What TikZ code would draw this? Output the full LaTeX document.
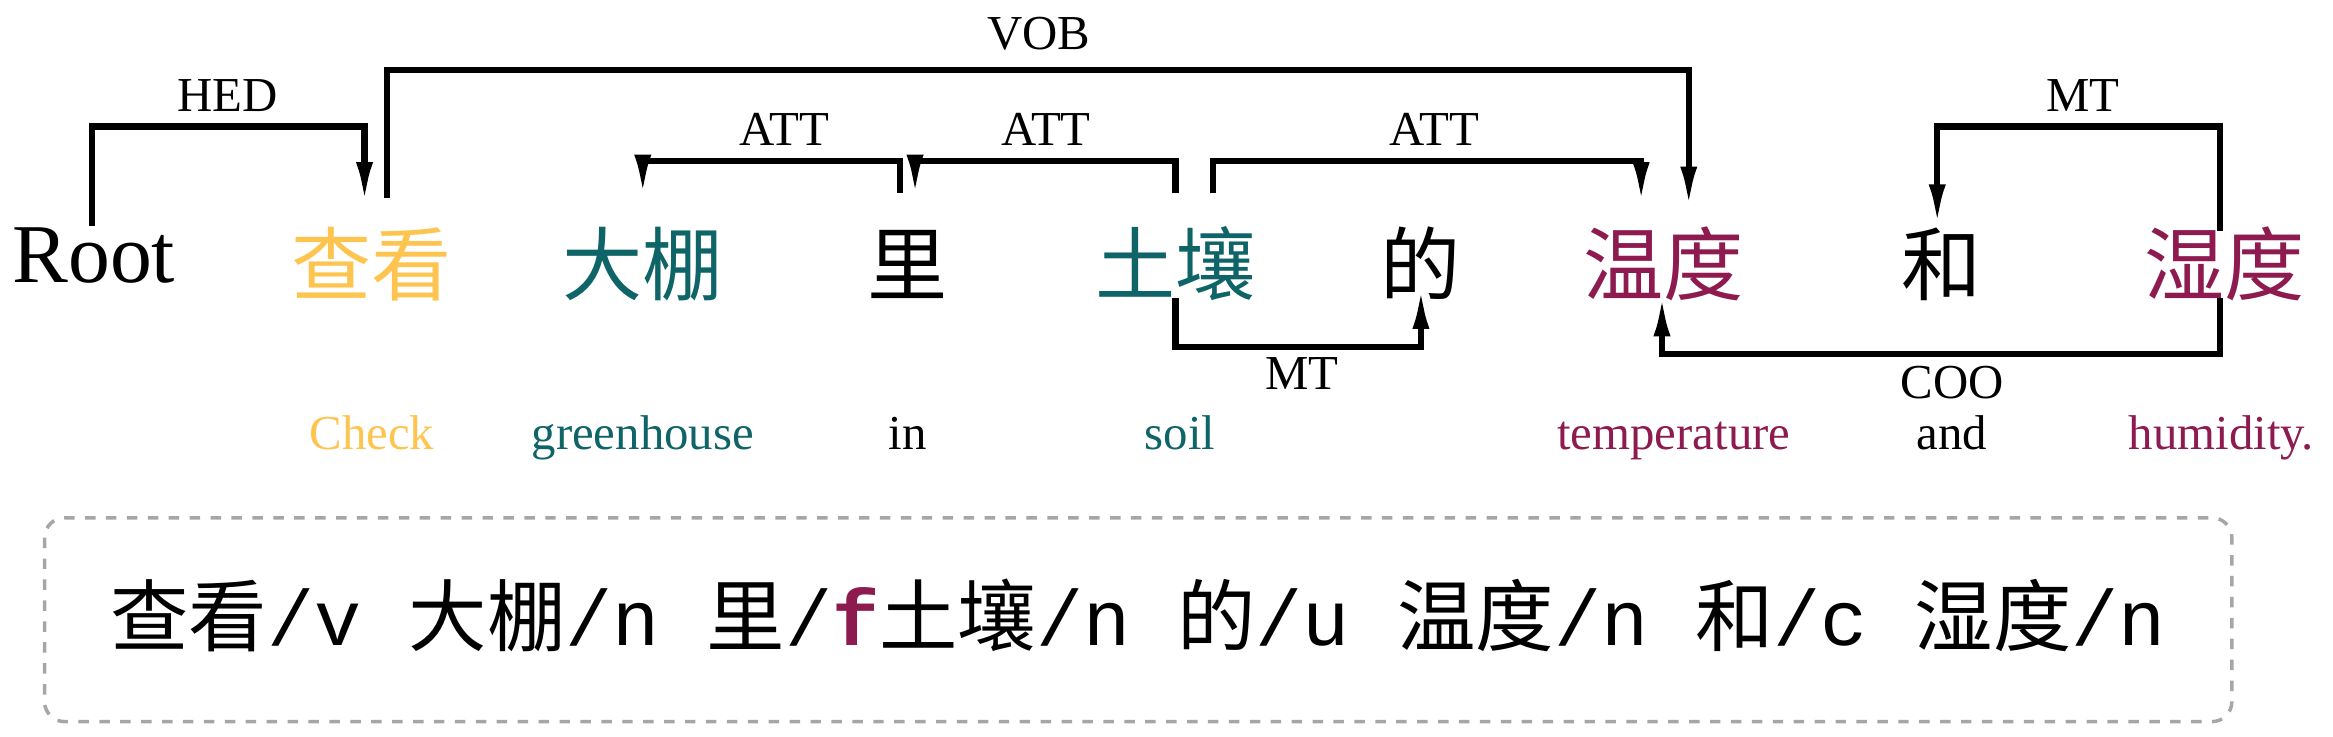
\documentclass[tikz,border=0pt]{standalone}
\usepackage{fontspec}
\setmainfont{Liberation Serif}
\newfontfamily\cjk{Noto Sans CJK SC}
\newfontfamily\mono{Liberation Mono}
\usetikzlibrary{arrows.meta}
\definecolor{cy}{HTML}{FDC550}
\definecolor{ct}{HTML}{0E6467}
\definecolor{cm}{HTML}{8E1B4F}
\begin{document}
\begin{tikzpicture}[x=0.015cm,y=-0.015cm,
  arr/.style={line width=1.8pt,-{Latex[length=0.42cm,width=0.17cm]}},
  cn/.style={font=\cjk\fontsize{23}{23}\selectfont,inner sep=0pt,anchor=base},
  en/.style={font=\fontsize{14}{14}\selectfont,inner sep=0pt,anchor=base},
  lab/.style={font=\fontsize{14}{14}\selectfont,inner sep=0pt,anchor=base}]
\useasboundingbox (0,0) rectangle (1568,495);
% words
\node[font=\fontsize{24}{24}\selectfont,inner sep=0pt,anchor=base] (root) at (63,190) {Root};
\node[cn,text=cy] (w1) at (250,198) {查看};
\node[cn,text=ct] (w2) at (432,198) {大棚};
\node[cn] (w3) at (610,198) {里};
\node[cn,text=ct] (w4) at (790,198) {土壤};
\node[cn] (w5) at (955,198) {的};
\node[cn,text=cm] (w6) at (1118,198) {温度};
\node[cn] (w7) at (1305,198) {和};
\node[cn,text=cm] (w8) at (1495,198) {湿度};
% English
\node[en,text=cy] (e1) at (250,302) {Check};
\node[en,text=ct] (e2) at (432,302) {greenhouse};
\node[en] (e3) at (610,302) {in};
\node[en,text=ct] (e4) at (793,302) {soil};
\node[en,text=cm] (e6) at (1125,302) {temperature};
\node[en] (e7) at (1312,302) {and};
\node[en,text=cm] (e8) at (1493,302) {humidity.};
% arcs
\coordinate (h1) at (62,152); \coordinate (h2) at (245,137);
\draw[arr] (h1) |- (153,85) -| (h2);
\node[lab] (lhed) at (153,75) {HED};
\coordinate (v1) at (260,133); \coordinate (v2) at (1135,140);
\draw[arr] (v1) |- (700,47) -| (v2);
\node[lab] (lvob) at (698,33) {VOB};
\coordinate (a1) at (605,130); \coordinate (a2) at (432,132);
\draw[arr] (a1) |- (520,108) -| (a2);
\node[lab] (latt1) at (527,98) {ATT};
\coordinate (b1) at (790,130); \coordinate (b2) at (615,132);
\draw[arr] (b1) |- (700,108) -| (b2);
\node[lab] (latt2) at (703,98) {ATT};
\coordinate (c1) at (815,130); \coordinate (c2) at (1103,137);
\draw[arr] (c1) |- (960,108) -| (c2);
\node[lab] (latt3) at (964,98) {ATT};
\coordinate (m1) at (1492,155); \coordinate (m2) at (1302,152);
\draw[arr] (m1) |- (1400,85) -| (m2);
\node[lab] (lmt1) at (1400,75) {MT};
\coordinate (d1) at (790,200); \coordinate (d2) at (955,193);
\draw[arr] (d1) |- (870,233) -| (d2);
\node[lab] (lmt2) at (875,262) {MT};
\coordinate (k1) at (1492,200); \coordinate (k2) at (1117,198);
\draw[arr] (k1) |- (1300,238) -| (k2);
\node[lab] (lcoo) at (1312,268) {COO};
% box
\draw[gray!70,dashed,line width=1pt,rounded corners=0.2cm] (30,348) rectangle (1500,485);
\node[inner sep=0pt,anchor=base,font=\fontsize{22.5}{22.5}\selectfont] (seg) at (765,434)
 {\cjk 查看\mono/v \cjk 大棚\mono/n \cjk 里\mono/\textcolor{cm}{\textbf{f}}\cjk 土壤\mono/n \cjk 的\mono/u \cjk 温度\mono/n \cjk 和\mono/c \cjk 湿度\mono/n};
\end{tikzpicture}
\end{document}
